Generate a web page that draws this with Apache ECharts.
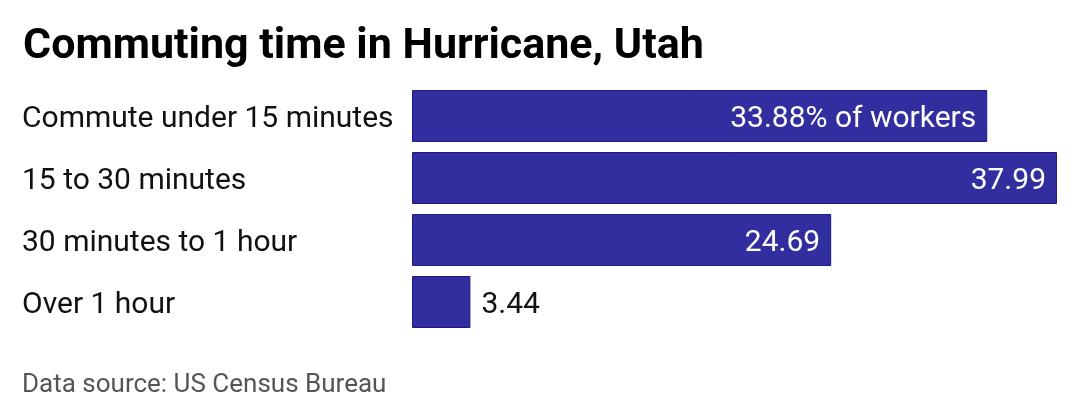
<!DOCTYPE html>
<html>
<head>
<meta charset="utf-8">
<script src="https://cdn.jsdelivr.net/npm/echarts@6/dist/echarts.min.js"></script>
<style>
html,body{margin:0;padding:0;background:#fff;}
#c{width:1080px;height:420px;}
</style>
</head>
<body>
<div id="c"></div>
<script>
var categories = ["Commute under 15 minutes", "15 to 30 minutes", "30 minutes to 1 hour", "Over 1 hour"];
var values = [33.88, 37.99, 24.69, 3.44];
var valueLabels = ["33.88% of workers", "37.99", "24.69", "3.44"];
var insideFlags = [true, true, true, false];

var chart = echarts.init(document.getElementById('c'), null, {renderer: 'canvas'});
var data = values.map(function (v, i) {
  return {
    value: v,
    label: insideFlags[i]
      ? {position: 'insideRight', color: '#ffffff', distance: 11}
      : {position: 'right', color: '#111111', distance: 11}
  };
});
chart.setOption({
  animation: false,
  title: {
    text: 'Commuting time in Hurricane, Utah',
    left: 18, top: 21,
    textStyle: {fontFamily: 'Roboto', fontWeight: 'bold', fontSize: 43, color: '#000'}
  },
  graphic: [{
    type: 'text', left: 22, top: 372,
    style: {text: 'Data source: US Census Bureau', fontFamily: 'Roboto', fontSize: 26, fill: '#555555'}
  }],
  grid: {left: 412, right: 23, top: 85, height: 248, containLabel: false},
  xAxis: {type: 'value', min: 0, max: 37.99, show: false},
  yAxis: {
    type: 'category', data: categories, inverse: true,
    axisLine: {show: false}, axisTick: {show: false}, splitLine: {show: false},
    axisLabel: {
      align: 'left', margin: 390, fontFamily: 'Roboto', fontSize: 30, color: '#111',
      formatter: function (v) { return '{a|' + v + '}'; },
      rich: {a: {fontFamily: 'Roboto', fontSize: 30, color: '#111', padding: [6, 0, 0, 0]}}
    }
  },
  series: [{
    type: 'bar', data: data, barWidth: 52,
    itemStyle: {color: '#332e9f', borderColor: '#1c1a85', borderWidth: 1},
    label: {
      show: true, fontFamily: 'Roboto', fontSize: 30, offset: [0, 3],
      formatter: function (p) { return valueLabels[p.dataIndex]; }
    }
  }]
});
</script>
</body>
</html>
